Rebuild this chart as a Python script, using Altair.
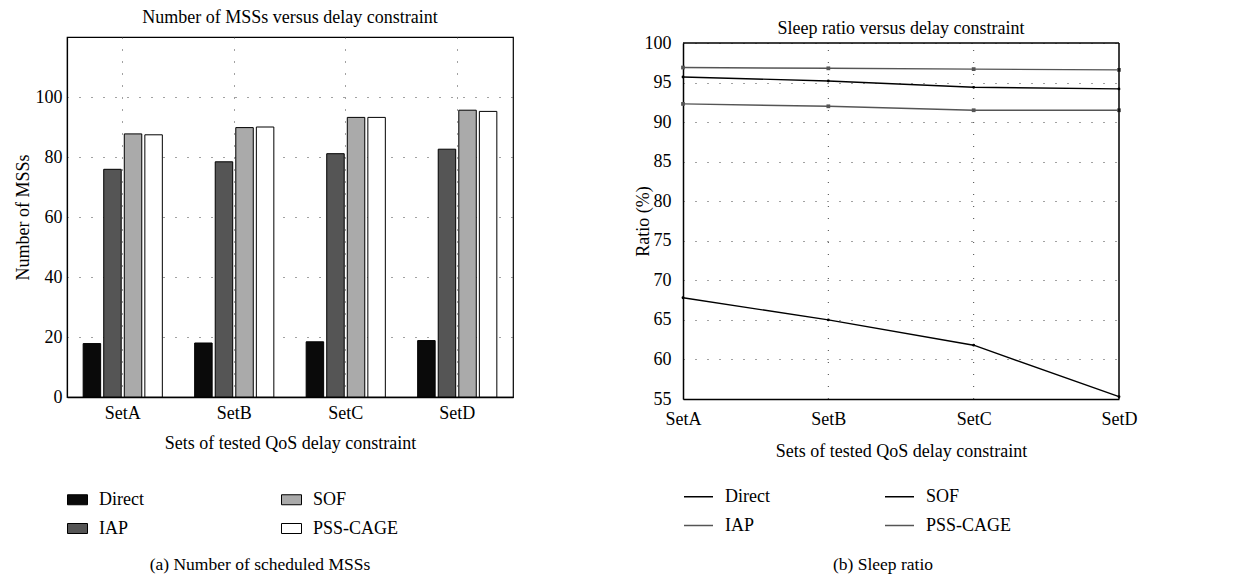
import altair as alt
import pandas as pd

FONT = "Liberation Serif"

sets = ["SetA", "SetB", "SetC", "SetD"]
methods = ["Direct", "IAP", "SOF", "PSS-CAGE"]

# (a) Number of scheduled MSSs
mss_direct = [17.8, 18.0, 18.4, 18.8]
mss_iap = [75.9, 78.4, 81.1, 82.6]
mss_sof = [87.7, 89.8, 93.2, 95.6]
mss_pss = [87.4, 90.0, 93.2, 95.2]

# (b) Sleep ratio (%)
sleep_direct = [67.8, 65.0, 61.8, 55.3]
sleep_iap = [92.3, 92.0, 91.5, 91.5]
sleep_sof = [95.7, 95.2, 94.4, 94.2]
sleep_pss = [96.9, 96.8, 96.7, 96.6]

ticks_a = [0, 20, 40, 60, 80, 100]
ticks_b = [55, 60, 65, 70, 75, 80, 85, 90, 95, 100]

title_a = "Number of MSSs versus delay constraint"
title_b = "Sleep ratio versus delay constraint"
xtitle = "Sets of tested QoS delay constraint"
ytitle_a = "Number of MSSs"
ytitle_b = "Ratio (%)"
captions = ["(a)  Number of scheduled MSSs", "(b)  Sleep ratio"]

bar_fill = ["#0a0a0a", "#555555", "#aaaaaa", "#ffffff"]   # in methods order
line_col = ["#000000", "#555555", "#000000", "#555555"]   # in methods order
black_series = ["Direct", "SOF"]
gray_series = ["IAP", "PSS-CAGE"]


def long_df(series):
    rows = []
    for m, vals in zip(methods, series):
        for s, v in zip(sets, vals):
            rows.append({"set": s, "method": m, "value": v})
    return pd.DataFrame(rows)


bar_df = long_df([mss_direct, mss_iap, mss_sof, mss_pss])
line_df = long_df([sleep_direct, sleep_iap, sleep_sof, sleep_pss])

W_A, H_A = 446, 360
W_B, H_B = 436, 362
TOP_B = 6
FS = 18

label_kw = dict(labelFont=FONT, labelFontSize=FS, labelColor="black",
                titleFont=FONT, titleFontSize=FS, titleFontWeight="normal", titleColor="black")

# ---------------- chart (a) ----------------
x_a = alt.X("set:N", sort=sets,
            scale=alt.Scale(paddingInner=0.29, paddingOuter=0.145),
            axis=alt.Axis(title=xtitle, labelAngle=0, ticks=False, domainColor="black", domainWidth=1.5,
                          grid=True, gridDash=[1, 11], gridColor="#444444", gridWidth=1, bandPosition=0.5,
                          labelPadding=7, titlePadding=12, **label_kw))
y_a = alt.Y("value:Q", scale=alt.Scale(domain=[0, 120], nice=False),
            axis=alt.Axis(title=ytitle_a, values=ticks_a, ticks=False, domainColor="black", domainWidth=1.2,
                          grid=True, gridDash=[1, 11], gridColor="#444444", gridWidth=1, labelFlush=False,
                          labelPadding=5, titlePadding=3, **label_kw))

bars = alt.Chart(bar_df).mark_bar(stroke="black", strokeWidth=1).encode(
    x=x_a,
    xOffset=alt.XOffset("method:N", sort=methods, scale=alt.Scale(paddingInner=0.15, paddingOuter=0)),
    y=y_a,
    color=alt.Color("method:N", scale=alt.Scale(domain=methods, range=bar_fill),
                    legend=alt.Legend(title=None, orient="none", legendX=0, legendY=452, columns=2,
                                      symbolType="M-1,-0.5H1V0.5H-1Z", symbolSize=400,
                                      symbolStrokeColor="black", symbolStrokeWidth=1, symbolOpacity=1,
                                      labelFont=FONT, labelFontSize=FS, labelColor="black",
                                      labelOffset=11, rowPadding=9, columnPadding=135)),
)

cap_a = alt.Chart(pd.DataFrame({"t": [captions[0]]})).mark_text(
    font=FONT, fontSize=17.5, color="black", align="center", baseline="middle"
).encode(text="t:N", x=alt.value(193), y=alt.value(528))

chart_a = alt.layer(bars, cap_a).properties(
    width=W_A, height=H_A,
    title=alt.Title(title_a, font=FONT, fontSize=18, fontWeight="normal", color="black", offset=10, anchor="middle"),
    view=alt.ViewBackground(stroke="black", strokeWidth=1.2),
)

# ---------------- chart (b) ----------------
ax_x_b = alt.Axis(title=xtitle, labelAngle=0, ticks=False, grid=False, domainColor="black",
                  domainWidth=1.5, labelPadding=11, titlePadding=14, **label_kw)
ax_y_b = alt.Axis(title=ytitle_b, values=ticks_b, ticks=False, domainColor="black", domainWidth=1.5,
                  grid=True, gridDash=[1, 11], gridColor="#444444", gridWidth=1, labelFlush=False,
                  labelPadding=12, titlePadding=-8, **label_kw)
sc_x_b = alt.Scale(type="point", padding=0)
sc_y_b = alt.Scale(domain=[55, 100], nice=False, zero=False, range=[H_B, TOP_B])

x_b = alt.X("set:N", sort=sets, scale=sc_x_b, axis=ax_x_b)
y_b = alt.Y("value:Q", scale=sc_y_b, axis=ax_y_b)

color_b = alt.Color("method:N", scale=alt.Scale(domain=methods, range=line_col),
                    legend=alt.Legend(title=None, orient="none", legendX=0, legendY=444, columns=2,
                                      symbolType="stroke", symbolSize=841, symbolStrokeWidth=1.5,
                                      labelFont=FONT, labelFontSize=FS, labelColor="black",
                                      labelOffset=11, rowPadding=4, columnPadding=112))

lines = alt.Chart(line_df).mark_line(strokeWidth=1.4).encode(x=x_b, y=y_b, color=color_b)

pts_black = alt.Chart(line_df).transform_filter(
    alt.FieldOneOfPredicate(field="method", oneOf=black_series)
).mark_point(filled=True, size=8, opacity=1, shape="circle", color="#000000").encode(x=x_b, y=y_b)

pts_gray = alt.Chart(line_df).transform_filter(
    alt.FieldOneOfPredicate(field="method", oneOf=gray_series)
).mark_point(filled=True, size=14, opacity=1, shape="square", color="#555555").encode(x=x_b, y=y_b)

vgrid = alt.Chart(pd.DataFrame({"set": sets[1:3]})).mark_rule(
    strokeDash=[1, 11], color="#444444", strokeWidth=1
).encode(x=x_b, y=alt.Y(datum=55, axis=ax_y_b), y2=alt.datum(100))

frame_top = alt.Chart(pd.DataFrame({"a": [0]})).mark_rule(color="black", strokeWidth=1.5).encode(
    x=alt.X(datum="SetA", axis=ax_x_b), x2=alt.datum("SetD"), y=alt.Y(datum=100, axis=ax_y_b))
frame_right = alt.Chart(pd.DataFrame({"a": [0]})).mark_rule(color="black", strokeWidth=1.5).encode(
    x=alt.X(datum="SetD", axis=ax_x_b), y=alt.Y(datum=55, axis=ax_y_b), y2=alt.datum(100))

cap_b = alt.Chart(pd.DataFrame({"t": [captions[1]]})).mark_text(
    font=FONT, fontSize=17.5, color="black", align="center", baseline="middle"
).encode(text="t:N", x=alt.value(200), y=alt.value(528))

chart_b = alt.layer(lines, vgrid, pts_black, pts_gray, frame_top, frame_right, cap_b).properties(
    width=W_B, height=H_B,
    title=alt.Title(title_b, font=FONT, fontSize=18, fontWeight="normal", color="black", offset=-4, anchor="middle"),
    view=alt.ViewBackground(stroke="transparent"),
)

chart = alt.hconcat(chart_a, chart_b, spacing=170, bounds="flush").resolve_scale(
    color="independent"
).resolve_legend(color="independent").properties(
    padding={"left": 5, "top": 0, "right": 5, "bottom": 5}
).configure(background="white")

chart.save("out.html", embed_options={"renderer": "svg", "actions": False})
